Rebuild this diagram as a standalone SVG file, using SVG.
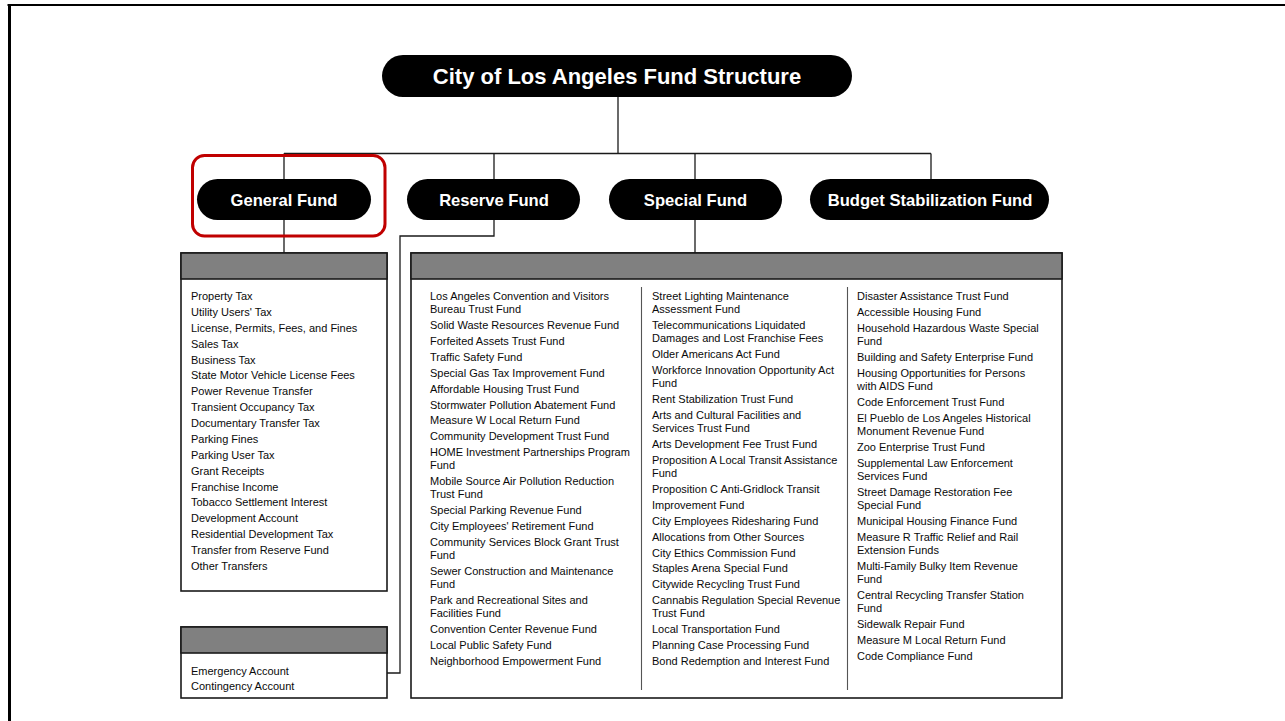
<svg xmlns="http://www.w3.org/2000/svg" width="1285" height="721" viewBox="0 0 1285 721">
  <style>
    .pill { fill: #000; }
    .pill-label { font-family: "Liberation Sans", Arial, sans-serif; font-weight: bold; fill: #fff; text-anchor: middle; }
    .title-label { font-size: 22px; }
    .fund-label { font-size: 16.6px; }
    .link { fill: none; stroke: #1a1a1a; stroke-width: 1.3; }
    .box { fill: #fff; stroke: #1a1a1a; stroke-width: 1.6; }
    .box-head { fill: #808080; stroke: #1a1a1a; stroke-width: 1.6; }
    .divider { stroke: #555; stroke-width: 1.1; }
    .item { font-family: "Liberation Sans", Arial, sans-serif; font-size: 11px; fill: #0a0a0a; }
    .frame { stroke: #000; fill: none; }
    .focus { fill: none; stroke: #c00000; stroke-width: 3; }
  </style>

  <rect x="0" y="0" width="1285" height="721" fill="#fff"/>

  <!-- page frame, open at the right and bottom -->
  <line class="frame" x1="7.5" y1="5" x2="1285" y2="5" stroke-width="2.2"/>
  <line class="frame" x1="9.5" y1="4" x2="9.5" y2="721" stroke-width="3"/>

  <!-- connectors -->
  <g id="connectors">
    <line class="link" x1="618" y1="97" x2="618" y2="153.5"/>
    <line class="link" x1="284" y1="153.5" x2="931" y2="153.5"/>
    <line class="link" x1="284" y1="153.5" x2="284" y2="179"/>
    <line class="link" x1="494" y1="153.5" x2="494" y2="179"/>
    <line class="link" x1="695" y1="153.5" x2="695" y2="179"/>
    <line class="link" x1="931" y1="153.5" x2="931" y2="179"/>
    <line class="link" x1="284" y1="220" x2="284" y2="253"/>
    <line class="link" x1="695" y1="220" x2="695" y2="253"/>
    <polyline class="link" points="494,220 494,236 400,236 400,673 387,673"/>
  </g>

  <!-- root -->
  <g id="node-root">
    <rect class="pill" x="382" y="55" width="470" height="42" rx="21"/>
    <text class="pill-label title-label" x="617" y="84">City of Los Angeles Fund Structure</text>
  </g>

  <!-- fund types -->
  <g id="node-general-fund">
    <rect class="pill" x="197" y="179" width="174" height="41" rx="20.5"/>
    <text class="pill-label fund-label" x="284" y="206">General Fund</text>
  </g>
  <g id="node-reserve-fund">
    <rect class="pill" x="407" y="179" width="173" height="41" rx="20.5"/>
    <text class="pill-label fund-label" x="494" y="206">Reserve Fund</text>
  </g>
  <g id="node-special-fund">
    <rect class="pill" x="609" y="179" width="173" height="41" rx="20.5"/>
    <text class="pill-label fund-label" x="695.5" y="206">Special Fund</text>
  </g>
  <g id="node-budget-stabilization-fund">
    <rect class="pill" x="810" y="179" width="239" height="41" rx="20.5"/>
    <text class="pill-label fund-label" x="930" y="206">Budget Stabilization Fund</text>
  </g>

  <!-- highlight around General Fund -->
  <rect class="focus" x="192.5" y="155.5" width="192.5" height="80.5" rx="12"/>

  <!-- General Fund revenue sources -->
  <g id="node-general-fund-list">
    <rect class="box" x="181" y="253" width="206" height="338"/>
    <rect class="box-head" x="181" y="253" width="206" height="26"/>
    <g class="item">
      <text x="191" y="300">Property Tax</text>
      <text x="191" y="315.9">Utility Users' Tax</text>
      <text x="191" y="331.8">License, Permits, Fees, and Fines</text>
      <text x="191" y="347.6">Sales Tax</text>
      <text x="191" y="363.5">Business Tax</text>
      <text x="191" y="379.4">State Motor Vehicle License Fees</text>
      <text x="191" y="395.3">Power Revenue Transfer</text>
      <text x="191" y="411.2">Transient Occupancy Tax</text>
      <text x="191" y="427">Documentary Transfer Tax</text>
      <text x="191" y="442.9">Parking Fines</text>
      <text x="191" y="458.8">Parking User Tax</text>
      <text x="191" y="474.7">Grant Receipts</text>
      <text x="191" y="490.6">Franchise Income</text>
      <text x="191" y="506.4">Tobacco Settlement Interest</text>
      <text x="191" y="522.3">Development Account</text>
      <text x="191" y="538.2">Residential Development Tax</text>
      <text x="191" y="554.1">Transfer from Reserve Fund</text>
      <text x="191" y="570">Other Transfers</text>
    </g>
  </g>

  <!-- Reserve Fund accounts -->
  <g id="node-reserve-fund-list">
    <rect class="box" x="181" y="627" width="206" height="71"/>
    <rect class="box-head" x="181" y="627" width="206" height="26"/>
    <g class="item">
      <text x="191" y="674.5">Emergency Account</text>
      <text x="191" y="690">Contingency Account</text>
    </g>
  </g>

  <!-- Special Fund list -->
  <g id="node-special-fund-list">
    <rect class="box" x="411" y="253" width="651" height="445"/>
    <rect class="box-head" x="411" y="253" width="651" height="26"/>
    <line class="divider" x1="641.5" y1="287" x2="641.5" y2="690"/>
    <line class="divider" x1="847.5" y1="287" x2="847.5" y2="690"/>

    <g class="item">
      <!-- column 1 -->
      <text x="430" y="300">Los Angeles Convention and Visitors<tspan x="430" dy="13.2">Bureau Trust Fund</tspan></text>
      <text x="430" y="329.1">Solid Waste Resources Revenue Fund</text>
      <text x="430" y="345">Forfeited Assets Trust Fund</text>
      <text x="430" y="360.8">Traffic Safety Fund</text>
      <text x="430" y="376.7">Special Gas Tax Improvement Fund</text>
      <text x="430" y="392.6">Affordable Housing Trust Fund</text>
      <text x="430" y="408.5">Stormwater Pollution Abatement Fund</text>
      <text x="430" y="424.4">Measure W Local Return Fund</text>
      <text x="430" y="440.2">Community Development Trust Fund</text>
      <text x="430" y="456.1">HOME Investment Partnerships Program<tspan x="430" dy="13.2">Fund</tspan></text>
      <text x="430" y="485.2">Mobile Source Air Pollution Reduction<tspan x="430" dy="13.2">Trust Fund</tspan></text>
      <text x="430" y="514.3">Special Parking Revenue Fund</text>
      <text x="430" y="530.2">City Employees' Retirement Fund</text>
      <text x="430" y="546">Community Services Block Grant Trust<tspan x="430" dy="13.2">Fund</tspan></text>
      <text x="430" y="575.1">Sewer Construction and Maintenance<tspan x="430" dy="13.2">Fund</tspan></text>
      <text x="430" y="604.2">Park and Recreational Sites and<tspan x="430" dy="13.2">Facilities Fund</tspan></text>
      <text x="430" y="633.3">Convention Center Revenue Fund</text>
      <text x="430" y="649.2">Local Public Safety Fund</text>
      <text x="430" y="665">Neighborhood Empowerment Fund</text>

      <!-- column 2 -->
      <text x="652" y="300">Street Lighting Maintenance<tspan x="652" dy="13.2">Assessment Fund</tspan></text>
      <text x="652" y="329.1">Telecommunications Liquidated<tspan x="652" dy="13.2">Damages and Lost Franchise Fees</tspan></text>
      <text x="652" y="358.2">Older Americans Act Fund</text>
      <text x="652" y="374">Workforce Innovation Opportunity Act<tspan x="652" dy="13.2">Fund</tspan></text>
      <text x="652" y="403.1">Rent Stabilization Trust Fund</text>
      <text x="652" y="419">Arts and Cultural Facilities and<tspan x="652" dy="13.2">Services Trust Fund</tspan></text>
      <text x="652" y="448.1">Arts Development Fee Trust Fund</text>
      <text x="652" y="464">Proposition A Local Transit Assistance<tspan x="652" dy="13.2">Fund</tspan></text>
      <text x="652" y="493">Proposition C Anti-Gridlock Transit</text>
      <text x="652" y="508.9">Improvement Fund</text>
      <text x="652" y="524.8">City Employees Ridesharing Fund</text>
      <text x="652" y="540.7">Allocations from Other Sources</text>
      <text x="652" y="556.6">City Ethics Commission Fund</text>
      <text x="652" y="572.4">Staples Arena Special Fund</text>
      <text x="652" y="588.3">Citywide Recycling Trust Fund</text>
      <text x="652" y="604.2">Cannabis Regulation Special Revenue<tspan x="652" dy="13.2">Trust Fund</tspan></text>
      <text x="652" y="633.3">Local Transportation Fund</text>
      <text x="652" y="649.2">Planning Case Processing Fund</text>
      <text x="652" y="665">Bond Redemption and Interest Fund</text>

      <!-- column 3 -->
      <text x="857" y="300">Disaster Assistance Trust Fund</text>
      <text x="857" y="315.9">Accessible Housing Fund</text>
      <text x="857" y="331.8">Household Hazardous Waste Special<tspan x="857" dy="13.2">Fund</tspan></text>
      <text x="857" y="360.8">Building and Safety Enterprise Fund</text>
      <text x="857" y="376.7">Housing Opportunities for Persons<tspan x="857" dy="13.2">with AIDS Fund</tspan></text>
      <text x="857" y="405.8">Code Enforcement Trust Fund</text>
      <text x="857" y="421.7">El Pueblo de Los Angeles Historical<tspan x="857" dy="13.2">Monument Revenue Fund</tspan></text>
      <text x="857" y="450.8">Zoo Enterprise Trust Fund</text>
      <text x="857" y="466.6">Supplemental Law Enforcement<tspan x="857" dy="13.2">Services Fund</tspan></text>
      <text x="857" y="495.7">Street Damage Restoration Fee<tspan x="857" dy="13.2">Special Fund</tspan></text>
      <text x="857" y="524.8">Municipal Housing Finance Fund</text>
      <text x="857" y="540.7">Measure R Traffic Relief and Rail<tspan x="857" dy="13.2">Extension Funds</tspan></text>
      <text x="857" y="569.8">Multi-Family Bulky Item Revenue<tspan x="857" dy="13.2">Fund</tspan></text>
      <text x="857" y="598.8">Central Recycling Transfer Station<tspan x="857" dy="13.2">Fund</tspan></text>
      <text x="857" y="627.9">Sidewalk Repair Fund</text>
      <text x="857" y="643.8">Measure M Local Return Fund</text>
      <text x="857" y="659.7">Code Compliance Fund</text>
    </g>
  </g>
</svg>
